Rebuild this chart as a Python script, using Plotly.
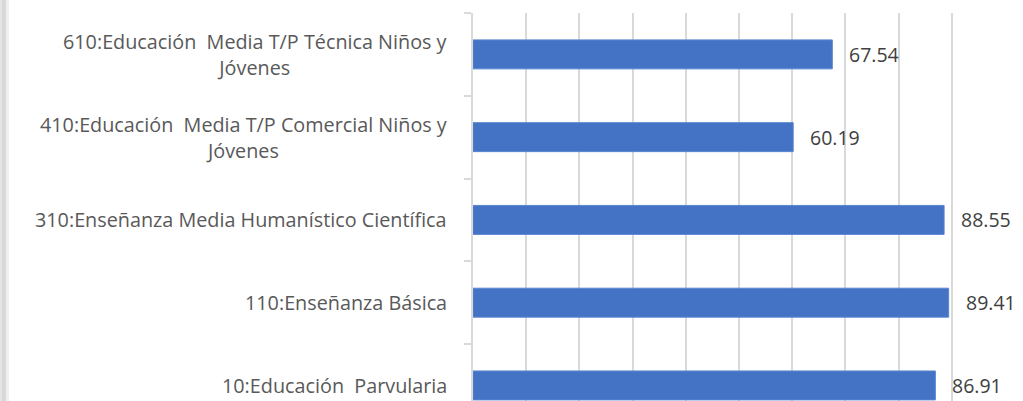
import plotly.graph_objects as go

categories = [
    "10:Educación\u00a0 Parvularia",
    "110:Enseñanza Básica",
    "310:Enseñanza Media Humanístico Científica",
    "410:Educación\u00a0 Media T/P Comercial Niños y<br>Jóvenes",
    "610:Educación\u00a0 Media T/P Técnica Niños y<br>Jóvenes",
]
values = [86.91, 89.41, 88.55, 60.19, 67.54]
value_labels = ["86.91", "89.41", "88.55", "60.19", "67.54"]

FONT = "Open Sans"
idx = list(range(len(categories)))

fig = go.Figure()
fig.add_trace(go.Bar(
    x=values, y=idx, orientation="h",
    marker=dict(color="#4472C4", line=dict(color="#5a86d0", width=1)),
    width=0.35, hoverinfo="skip", showlegend=False,
))

annotations = []
for i, (c, v, t) in enumerate(zip(categories, values, value_labels)):
    annotations.append(dict(
        xref="paper", x=0, yref="y", y=i, xanchor="right", yanchor="middle",
        xshift=-24, text=c, showarrow=False, align="center",
        font=dict(family=FONT, size=19.8, color="#595959"),
    ))
    annotations.append(dict(
        xref="x", x=v, yref="y", y=i, xanchor="left", yanchor="middle",
        xshift=15, text=t, showarrow=False,
        font=dict(family=FONT, size=19.5, color="#404040"),
    ))

PW = 532.0
fig.update_layout(
    width=1023, height=401,
    margin=dict(l=473, r=18, t=13, b=0, pad=0),
    paper_bgcolor="white", plot_bgcolor="white",
    annotations=annotations,
    shapes=[
        dict(type="rect", xref="paper", yref="paper",
             x0=-473/PW, x1=-471/PW, y0=-0.1, y1=1.1,
             fillcolor="#e4e4e4", line=dict(width=0), layer="above"),
        dict(type="rect", xref="paper", yref="paper",
             x0=-471/PW, x1=-467/PW, y0=-0.1, y1=1.1,
             fillcolor="#d8d8d8", line=dict(width=0), layer="above"),
        dict(type="rect", xref="paper", yref="paper",
             x0=-467/PW, x1=-464/PW, y0=-0.1, y1=1.1,
             fillcolor="#efefef", line=dict(width=0), layer="above"),
    ],
)
fig.update_xaxes(
    range=[0, 100], dtick=10, tick0=0, showgrid=True, gridcolor="#d9d9d9",
    gridwidth=1.5, showticklabels=False, zeroline=False, showline=False,
    ticks="", fixedrange=True,
)
fig.update_yaxes(
    type="linear", range=[-0.188, 4.5], showgrid=False, zeroline=False,
    showline=True, linecolor="#d9d9d9", linewidth=1.5,
    tickmode="array", tickvals=[0.5, 1.5, 2.5, 3.5, 4.5], ticktext=[""] * 5,
    ticks="outside", ticklen=7, tickcolor="#d9d9d9", tickwidth=1.5,
    showticklabels=False, fixedrange=True,
)

fig.write_html(
    "out.html",
    config={"displayModeBar": False},
    post_script="document.body.style.margin='0';document.body.style.overflow='hidden';",
)
